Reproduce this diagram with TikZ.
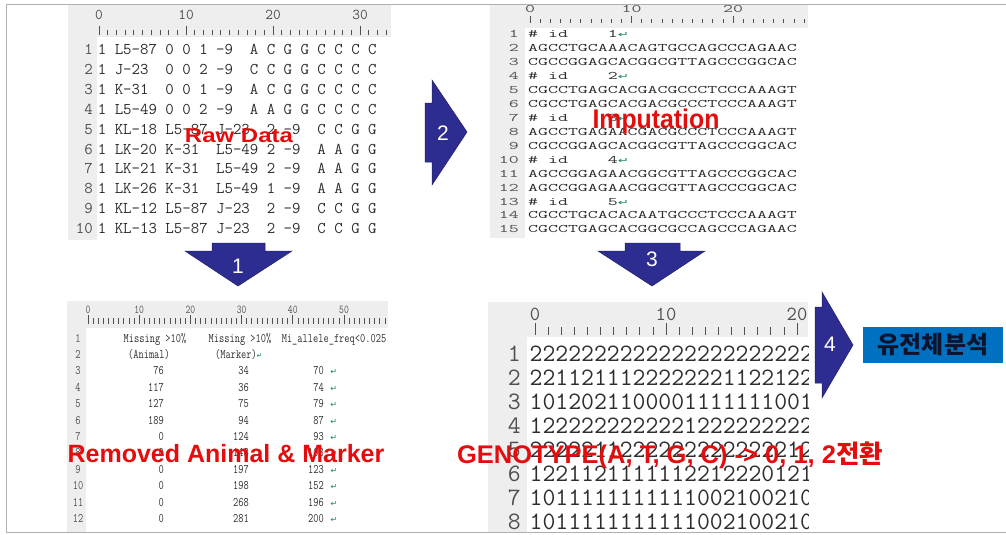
\documentclass[tikz,border=0pt]{standalone}
\usepackage{fontspec}
\usepackage{graphicx}
\setmainfont{Liberation Sans}
\newfontfamily\krfont{Noto Sans CJK KR}
\newfontfamily\symfont{DejaVu Sans}

\definecolor{framegray}{RGB}{175,175,175}
\definecolor{bandgray}{RGB}{238,238,238}
\definecolor{txtgray}{RGB}{45,45,45}
\definecolor{numgray}{RGB}{80,80,80}
\definecolor{labelred}{RGB}{228,12,12}
\definecolor{chevblue}{RGB}{45,45,145}
\definecolor{genomeblue}{RGB}{0,112,192}
\definecolor{genomeink}{RGB}{15,20,45}
\definecolor{retgreen}{RGB}{20,130,110}

\newcommand\retmark{{\symfont\color{retgreen}\fontsize{8}{8}\selectfont ↵}}
\newcommand\stretchx[2]{\scalebox{#1}[1]{#2}}

\begin{document}
\begin{tikzpicture}[x=1pt, y=-1pt,
    rawtxt/.style={inner sep=0pt, anchor=base west, text=txtgray, font=\ttfamily\fontsize{16.4}{18}\selectfont},
    rawnum/.style={rawtxt, anchor=base east, text=numgray},
    rawruler/.style={rawtxt, anchor=base, text=numgray, font=\ttfamily\fontsize{15}{16}\selectfont},
    imptxt/.style={inner sep=0pt, anchor=base west, text=txtgray, font=\ttfamily\fontsize{11.5}{12}\selectfont},
    impnum/.style={imptxt, anchor=base east, text=numgray},
    impruler/.style={imptxt, anchor=base, text=numgray},
    remtxt/.style={inner sep=0pt, anchor=base, text=txtgray, font=\ttfamily\fontsize{13}{14}\selectfont},
    remval/.style={remtxt, anchor=base east},
    remruler/.style={remtxt, text=numgray, font=\ttfamily\fontsize{12}{13}\selectfont},
    gentxt/.style={inner sep=0pt, anchor=base west, text=txtgray, font=\ttfamily\fontsize{25}{26}\selectfont},
    gennum/.style={gentxt, anchor=base east, text=numgray},
    genruler/.style={gentxt, anchor=base, text=numgray, font=\ttfamily\fontsize{20}{21}\selectfont},
    rulertick/.style={draw=numgray, line width=0.7pt},
    redlabel/.style={inner sep=0pt, anchor=base, text=labelred, font=\fontsize{25}{26}\selectfont\bfseries},
    chev/.style={fill=chevblue, draw=chevblue!70!black, line width=0.5pt},
    stepnum/.style={inner sep=0pt, text=white, font=\fontsize{21}{22}\selectfont},
    genome/.style={fill=genomeblue, minimum width=140pt, minimum height=36pt, inner sep=0pt, text=genomeink, font=\krfont\bfseries\fontsize{24}{25}\selectfont}
  ]
  \useasboundingbox (0,0) rectangle (1006,535);

  % raw data
  \fill[bandgray] (68,5) rectangle (391,37);
  \fill[bandgray] (68,37) rectangle (97,240);
  \foreach \n [count=\k from 0] in {0,10,20,30}
    \node[rawruler] (rawr\k) at ({99+87*\k},20) {\n};
  \foreach \c in {0,...,33}{
    \pgfmathsetmacro\ty{mod(\c,10)==0 ? 26 : 30}
    \draw[rulertick] ({99+8.7*\c},\ty) -- ({99+8.7*\c},35);
  }
  \foreach \t [count=\i] in {1 L5-87 0 0 1 -9~ A C G G C C C C,
      1 J-23~ 0 0 2 -9~ C C G G C C C C,
      1 K-31~ 0 0 1 -9~ A C G G C C C C,
      1 L5-49 0 0 2 -9~ A A G G C C C C,
      1 KL-18 L5-87 J-23~ 2 -9~ C C G G,
      1 LK-20 K-31~ L5-49 2 -9~ A A G G,
      1 LK-21 K-31~ L5-49 2 -9~ A A G G,
      1 LK-26 K-31~ L5-49 1 -9~ A A G G,
      1 KL-12 L5-87 J-23~ 2 -9~ C C G G,
      1 KL-13 L5-87 J-23~ 2 -9~ C C G G}{
    \node[rawnum] (rawn\i) at (93,{55+19.8*(\i-1)}) {\i};
    \node[rawtxt] (raw\i) at (97.7,{55+19.8*(\i-1)}) {\t};
  }

  % imputation
  \fill[bandgray] (490,5) rectangle (808,28);
  \fill[bandgray] (490,28) rectangle (525,238);
  \foreach \n [count=\k from 0] in {0,10,20}
    \node[impruler] (impr\k) at ({530+101.5*\k},12.5) {\stretchx{1.68}{\n}};
  \foreach \c in {0,...,27}{
    \pgfmathsetmacro\ty{mod(\c,10)==0 ? 16 : 19}
    \draw[rulertick] ({530+10.15*\c},\ty) -- ({530+10.15*\c},23);
  }
  \foreach \t [count=\i] in {\# id~~~~1\retmark,
      AGCCTGCAAACAGTGCCAGCCCAGAAC,
      CGCCGGAGCACGGCGTTAGCCCGGCAC,
      \# id~~~~2\retmark,
      CGCCTGAGCACGACGCCCTCCCAAAGT,
      CGCCTGAGCACGACGCCCTCCCAAAGT,
      \# id~~~~3\retmark,
      AGCCTGAGAACGACGCCCTCCCAAAGT,
      CGCCGGAGCACGGCGTTAGCCCGGCAC,
      \# id~~~~4\retmark,
      AGCCGGAGAACGGCGTTAGCCCGGCAC,
      AGCCGGAGAACGGCGTTAGCCCGGCAC,
      \# id~~~~5\retmark,
      CGCCTGCACACAATGCCCTCCCAAAGT,
      CGCCTGAGCACGGCGCCAGCCCAGAAC}{
    \node[impnum] (impn\i) at (519,{37.5+13.96*(\i-1)}) {\stretchx{1.68}{\i}};
    \node[imptxt] (imp\i) at (528,{37.5+13.96*(\i-1)}) {\stretchx{1.68}{\t}};
  }

  % removed animal and marker
  \fill[bandgray] (67,301) rectangle (388,328);
  \fill[bandgray] (67,328) rectangle (86,532);
  \foreach \n [count=\k from 0] in {0,10,20,30,40,50}
    \node[remruler] (remr\k) at ({88+51.2*\k},313) {\stretchx{0.78}{\n}};
  \foreach \c in {0,...,58}{
    \pgfmathsetmacro\ty{mod(\c,10)==0 ? 315 : 318}
    \draw[rulertick] ({88+5.12*\c},\ty) -- ({88+5.12*\c},324);
  }
  \foreach \i in {1,...,12}
    \node[remtxt, text=numgray] (remn\i) at (78,{342+16.4*(\i-1)}) {\stretchx{0.78}{\i}};
  \node[remtxt] (hdanimal) at (155,342) {\stretchx{0.78}{Missing >10\%}};
  \node[remtxt] (hdmarker) at (240,342) {\stretchx{0.78}{Missing >10\%}};
  \node[remtxt] (hdfreq) at (334,342) {\stretchx{0.78}{Mi\_allele\_freq<0.025}};
  \node[remtxt] (hdanimal2) at (149,358.4) {\stretchx{0.78}{(Animal)}};
  \node[remtxt] (hdmarker2) at (236,358.4) {\stretchx{0.78}{(Marker)\rlap{\retmark}}};
  \foreach \a/\m/\f [count=\i from 3] in {76/34/70, 117/36/74, 127/75/79, 189/94/87,
      0/124/93, 0/148/108, 0/197/123, 0/198/152, 0/268/196, 0/281/200}{
    \node[remval] (rema\i) at (164,{342+16.4*(\i-1)}) {\stretchx{0.78}{\a}};
    \node[remval] (remm\i) at (249,{342+16.4*(\i-1)}) {\stretchx{0.78}{\m}};
    \node[remval] (remf\i) at (324,{342+16.4*(\i-1)}) {\stretchx{0.78}{\f}\rlap{~\retmark}};
  }

  % genotype
  \fill[bandgray] (488,302) rectangle (808,337);
  \fill[bandgray] (488,337) rectangle (527,532);
  \foreach \n [count=\k from 0] in {0,10,20}
    \node[genruler] (genr\k) at ({535+131*\k},320) {\n};
  \foreach \c in {0,...,20}{
    \pgfmathsetmacro\ty{mod(\c,10)==0 ? 323 : 327}
    \draw[rulertick] ({535+13.1*\c},\ty) -- ({535+13.1*\c},335);
  }
  \begin{scope}
    \clip (488,337) rectangle (808,532);
    \foreach \t [count=\i] in {2222222222222222222222222,
        2211211122222221122122122,
        1012021100001111111001000,
        1222222222221222222222222,
        2222211222222222222212222,
        1221121111112212220121222,
        1011111111111002100210111,
        1011111111111002100210111}{
      \node[gennum] (genn\i) at (521,{361+24*(\i-1)}) {\i};
      \node[gentxt] (gen\i) at (529.5,{361+24*(\i-1)}) {\t};
    }
  \end{scope}

  % outer frame
  \draw[framegray, line width=1pt] (1006,5) -- (6,5) -- (6,532) -- (1006,532);

  % labels
  \node[redlabel, font=\fontsize{20}{21}\selectfont\bfseries] (rawlbl) at (239,142) {\stretchx{1.2}{Raw Data}};
  \node[redlabel, font=\fontsize{27}{28}\selectfont\bfseries] (implbl) at (656,128) {\stretchx{0.92}{Imputation}};
  \node[redlabel] (remlbl) at (226,462) {Removed Animal \& Marker};
  \node[redlabel, font=\fontsize{25.5}{26}\selectfont\bfseries] (genlbl) at (670,463) {GENOTYPE(A, T, G, C) -> 0, 1, 2{\krfont\bfseries 전환}};

  % steps
  \draw[chev] (212,243) -- (265,243) -- (265,251) -- (292,251) -- (238,286) -- (185,251) -- (212,251) -- cycle;
  \node[stepnum] (step1) at (238,266) {1};
  \draw[chev] (425,103) -- (432,103) -- (432,80) -- (467,132) -- (432,185) -- (432,162) -- (425,162) -- cycle;
  \node[stepnum] (step2) at (443,133) {2};
  \draw[chev] (625,243) -- (680,243) -- (680,251) -- (705,251) -- (652,286) -- (598,251) -- (625,251) -- cycle;
  \node[stepnum] (step3) at (652,259) {3};
  \draw[chev] (815,307) -- (822,307) -- (822,292) -- (853,345) -- (822,398) -- (822,383) -- (815,383) -- cycle;
  \node[stepnum] (step4) at (830,344) {4};

  \node[genome] (genome) at (933,345) {유전체분석};
\end{tikzpicture}
\end{document}
